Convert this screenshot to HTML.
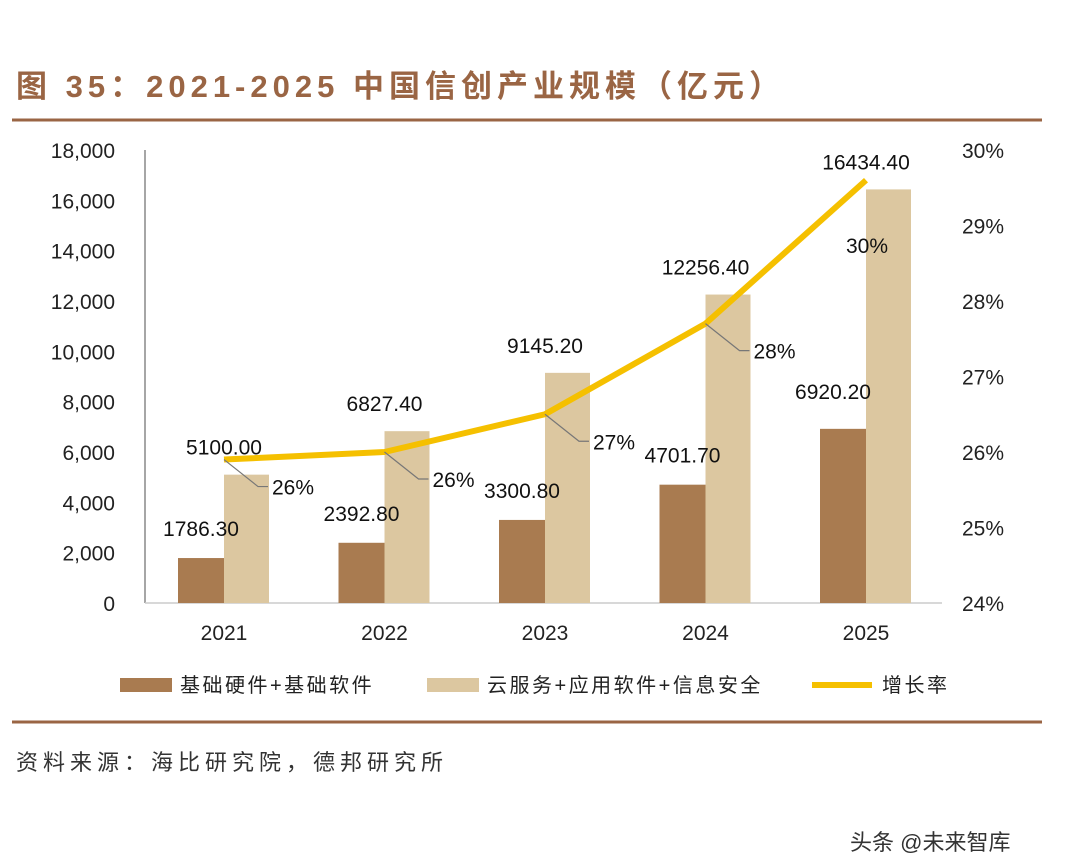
<!DOCTYPE html>
<html><head><meta charset="utf-8"><style>
body{margin:0;background:#fff;width:1080px;height:867px;overflow:hidden;font-family:"Liberation Sans","Noto Sans CJK SC",sans-serif}
</style></head><body>
<svg width="1080" height="867" style="position:absolute;left:0;top:0">
<text x="16" y="97" font-size="31" font-weight="bold" fill="#9a6544" letter-spacing="5" font-family="Liberation Sans, Noto Sans CJK SC, sans-serif">图 35：2021-2025 中国信创产业规模（亿元）</text>
<line x1="12" y1="120" x2="1042" y2="120" stroke="#9a6544" stroke-width="3"/>
<line x1="12" y1="722" x2="1042" y2="722" stroke="#9a6544" stroke-width="3"/>
<g id="plot"></g>
<g font-size="20" fill="#222" letter-spacing="2.5">
<rect x="120" y="678" width="52" height="14" fill="#a97b50"/>
<text x="180" y="692">基础硬件+基础软件</text>
<rect x="427" y="678" width="52" height="14" fill="#dcc7a0"/>
<text x="487" y="692">云服务+应用软件+信息安全</text>
<line x1="812" y1="685" x2="872" y2="685" stroke="#f5c000" stroke-width="6"/>
<text x="882" y="692">增长率</text>
</g>
<text x="16" y="770" font-size="22" fill="#333" letter-spacing="5">资料来源：海比研究院，德邦研究所</text>
<text x="850" y="850" font-size="22" fill="#333">头条 @未来智库</text>
</svg>
<script>
const categories=["2021","2022","2023","2024","2025"];
const hardware=[1786.30,2392.80,3300.80,4701.70,6920.20];
const cloud=[5100.00,6827.40,9145.20,12256.40,16434.40];
const growth=[25.9,26.0,26.5,27.7,29.6];
const growthLabels=["26%","26%","27%","28%","30%"];
const leftTicks=[0,2000,4000,6000,8000,10000,12000,14000,16000,18000];
const rightTicks=[24,25,26,27,28,29,30];
const NS="http://www.w3.org/2000/svg";
const g=document.getElementById('plot');
function mk(t,a,txt){const e=document.createElementNS(NS,t);for(const k in a)e.setAttribute(k,a[k]);if(txt!=null)e.textContent=txt;g.appendChild(e);return e;}
const y0=603,yTop=150;
const yL=v=>y0-(v/18000)*(y0-yTop);
const yR=v=>y0-((v-24)/6)*(y0-yTop);
const xC=i=>224+i*160.5;
let e;
e=mk('line',{x1:145,y1:yTop,x2:145,y2:y0,stroke:'#888','stroke-width':1.5});


e=mk('line',{x1:145,y1:y0,x2:942,y2:y0,stroke:'#ccc','stroke-width':1.5});


leftTicks.forEach(v=>{e=mk('text',{x:115,y:yL(v)+8,'font-size':21,'text-anchor':'end',fill:'#222'},v.toLocaleString('en-US'));

});
rightTicks.forEach(v=>{e=mk('text',{x:962,y:yR(v)+8,'font-size':21,fill:'#222'},v+'%');

});
categories.forEach((c,i)=>{
const x=xC(i);
e=mk('rect',{x:x-46,y:yL(hardware[i]),width:46,height:y0-yL(hardware[i]),fill:'#a97b50'});


e=mk('rect',{x:x,y:yL(cloud[i]),width:45,height:y0-yL(cloud[i]),fill:'#dcc7a0'});


e=mk('text',{x:x,y:640,'font-size':21,'text-anchor':'middle',fill:'#222'},c);


e=mk('text',{x:x-23-(i==4?10:0),y:yL(hardware[i])-22+(i==4?-8:0),'font-size':21,'text-anchor':'middle',fill:'#111'},hardware[i].toFixed(2));


e=mk('text',{x:x,y:yL(cloud[i])-20,'font-size':21,'text-anchor':'middle',fill:'#111'},cloud[i].toFixed(2));


});
let d=growth.map((v,i)=>(i?'L':'M')+xC(i)+','+yR(v)).join(' ');
e=mk('path',{d:d,fill:'none',stroke:'#f5c000','stroke-width':6,'stroke-linejoin':'round'});


growth.forEach((v,i)=>{
const x=xC(i),y=yR(v);
if(i===growth.length-1){
e=mk('text',{x:x-20,y:y+73,'font-size':21,fill:'#111'},growthLabels[i]);


return;}
e=mk('path',{d:`M${x},${y} L${x+34},${y+27} L${x+44},${y+27}`,fill:'none',stroke:'#777','stroke-width':1.2});


e=mk('text',{x:x+48,y:y+35,'font-size':21,fill:'#111'},growthLabels[i]);


});
</script>
</body></html>
